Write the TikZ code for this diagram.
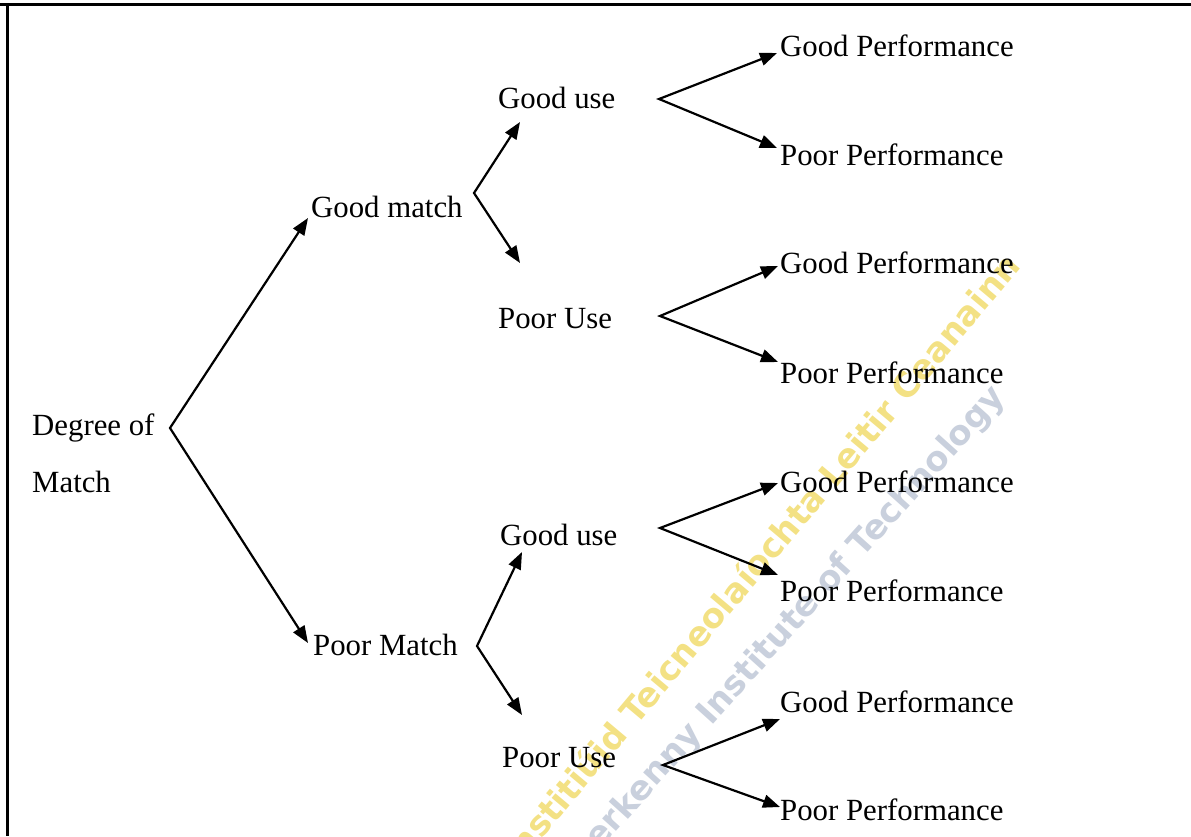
\documentclass[tikz,border=0pt]{standalone}
\usepackage{fontspec}
\setmainfont{Liberation Serif}
\newfontfamily\wmfont{DejaVu Sans}
\usetikzlibrary{arrows.meta}
\definecolor{wmyellow}{RGB}{238,212,80}
\definecolor{wmgrey}{RGB}{178,188,206}
\begin{document}
\begin{tikzpicture}[x=1pt,y=-1pt,
  lbl/.style={anchor=base west, inner sep=0pt, font=\fontsize{30.8}{36}\selectfont},
  fork/.style={line width=2.2pt, line join=miter,
    {Triangle[length=17pt,width=13pt]}-{Triangle[length=17pt,width=13pt]}},
  wm/.style={font=\wmfont\bfseries\fontsize{34}{40}\selectfont,
    inner sep=0pt, anchor=east, opacity=0.7}
]
\useasboundingbox (0,0) rectangle (1191,836);

% faint stamp across the lower right
\node[wm, rotate=50, text=wmyellow] (stampA) at (1012,258) {Institiúid Teicneolaíochta Leitir Ceanainn};
\node[wm, rotate=48, text=wmgrey]   (stampB) at (1000,392) {Letterkenny Institute of Technology};

% frame (top and left edges)
\draw[line width=3pt] (0,4.5) -- (1191,4.5);
\draw[line width=3pt] (7,4.5) -- (7,836);

% labels
\node[lbl] (dom1) at (32,435) {Degree of};
\node[lbl] (dom2) at (32,492) {Match};
\node[lbl] (gm)  at (311,217) {Good match};
\node[lbl] (pm)  at (313,655) {Poor Match};
\node[lbl] (gu1) at (498,108) {Good use};
\node[lbl] (pu1) at (498,328) {Poor Use};
\node[lbl] (gu2) at (500,545) {Good use};
\node[lbl] (pu2) at (502,767) {Poor Use};
\node[lbl] (gp1) at (780,56)  {Good Performance};
\node[lbl] (pp1) at (780,165) {Poor Performance};
\node[lbl] (gp2) at (780,273) {Good Performance};
\node[lbl] (pp2) at (780,383) {Poor Performance};
\node[lbl] (gp3) at (780,492) {Good Performance};
\node[lbl] (pp3) at (780,601) {Poor Performance};
\node[lbl] (gp4) at (780,712) {Good Performance};
\node[lbl] (pp4) at (780,820) {Poor Performance};

% branch points
\coordinate (f-root) at (170,428);
\coordinate (f-gm)   at (474,193);
\coordinate (f-pm)   at (477,646);
\coordinate (f-gu1)  at (659,99);
\coordinate (f-pu1)  at (660,316);
\coordinate (f-gu2)  at (660,528);
\coordinate (f-pu2)  at (663,765);

% arrow ends
\coordinate (t-gm)  at (308,218);
\coordinate (t-pm)  at (308,643);
\coordinate (t-gu1) at (520,122);
\coordinate (t-pu1) at (520,263);
\coordinate (t-gu2) at (522,552);
\coordinate (t-pu2) at (522,715);
\coordinate (t-gp1) at (777,53);
\coordinate (t-pp1) at (777,148);
\coordinate (t-gp2) at (778,266);
\coordinate (t-pp2) at (778,362);
\coordinate (t-gp3) at (778,483);
\coordinate (t-pp3) at (778,575);
\coordinate (t-gp4) at (780,719);
\coordinate (t-pp4) at (780,807);

% forks
\draw[fork] (t-gm)  -- (f-root) -- (t-pm);
\draw[fork] (t-gu1) -- (f-gm)   -- (t-pu1);
\draw[fork] (t-gu2) -- (f-pm)   -- (t-pu2);
\draw[fork] (t-gp1) -- (f-gu1)  -- (t-pp1);
\draw[fork] (t-gp2) -- (f-pu1)  -- (t-pp2);
\draw[fork] (t-gp3) -- (f-gu2)  -- (t-pp3);
\draw[fork] (t-gp4) -- (f-pu2)  -- (t-pp4);
\end{tikzpicture}
\end{document}
